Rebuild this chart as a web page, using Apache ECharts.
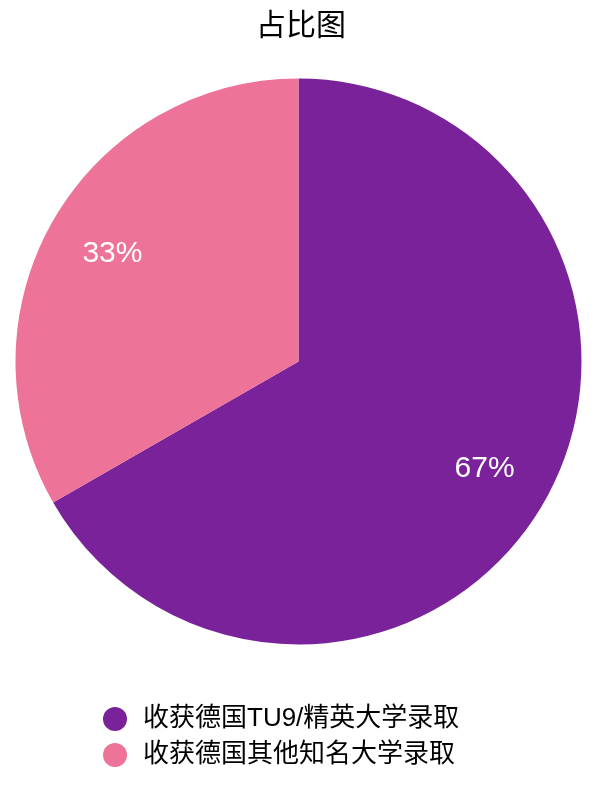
<!DOCTYPE html>
<html><head><meta charset="utf-8">
<script src="https://cdn.jsdelivr.net/npm/echarts@6/dist/echarts.min.js"></script>
<style>html,body{margin:0;padding:0;background:#fff}#c{width:602px;height:809px}</style>
</head><body><div id="c"></div>
<script>
const titleText = '占比图';
const categories = ['收获德国TU9/精英大学录取', '收获德国其他知名大学录取'];
const values = [66.7, 33.3];
const colors = ['#7A2299', '#EE7399'];

const FONT = '"Liberation Sans", "Noto Sans CJK SC", sans-serif';
const data = categories.map((n, i) => ({ name: n, value: values[i], itemStyle: { color: colors[i] } }));
const chart = echarts.init(document.getElementById('c'), null, { renderer: 'canvas' });
chart.setOption({
  backgroundColor: '#fff',
  animation: false,
  title: {
    text: titleText, left: 'center', top: 7,
    textStyle: { fontFamily: FONT, fontSize: 30, fontWeight: 'normal', color: '#000' }
  },
  legend: {
    data: categories.map(n => ({ name: n, icon: 'circle' })),
    orient: 'vertical', left: 98, top: 701,
    itemWidth: 24, itemHeight: 24, itemGap: 10,
    textStyle: { fontFamily: FONT, fontSize: 26, color: '#000', lineHeight: 24, padding: [0, 0, 0, 11] }
  },
  series: [
    {
      type: 'pie', center: [298.5, 361.5], radius: [0, 283],
      startAngle: 90, clockwise: true,
      label: { show: false }, labelLine: { show: false },
      emphasis: { disabled: true },
      data: data
    },
    {
      type: 'pie', center: [298.5, 361.5], radius: [141, 283],
      startAngle: 90, clockwise: true, silent: true, percentPrecision: 0,
      itemStyle: { color: 'rgba(0,0,0,0)' },
      label: { show: true, position: 'inside', formatter: '{d}%', color: '#fff', fontSize: 30, fontFamily: FONT },
      labelLine: { show: false },
      data: categories.map((n, i) => ({ name: n, value: values[i], itemStyle: { color: 'rgba(0,0,0,0)' } }))
    }
  ]
});
</script></body></html>
